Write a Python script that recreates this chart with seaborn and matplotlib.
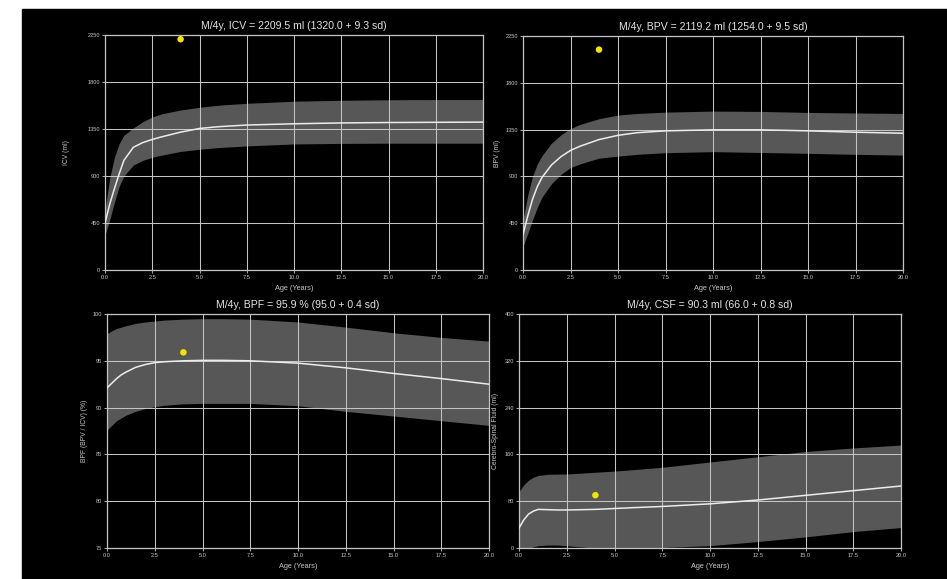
import numpy as np
import pandas as pd
import matplotlib
matplotlib.use("Agg")
import matplotlib.pyplot as plt
import seaborn as sns

sns.set_theme(style="dark")
plt.rcParams['font.family'] = ['Liberation Sans', 'DejaVu Sans']

ages = [0, 0.25, 0.5, 0.75, 1, 1.5, 2, 2.5, 3, 4, 5, 6, 7.5, 10, 12.5, 15, 17.5, 20]

icv_mean = [450, 630, 780, 920, 1050, 1175, 1220, 1250, 1275, 1320, 1355, 1372, 1388, 1400, 1408, 1412, 1414, 1416]
icv_upper = [575, 880, 1080, 1210, 1290, 1360, 1420, 1465, 1495, 1532, 1558, 1578, 1596, 1616, 1625, 1630, 1632, 1632]
icv_lower = [335, 480, 650, 800, 900, 1005, 1050, 1079, 1100, 1135, 1156, 1172, 1188, 1207, 1212, 1214, 1214, 1214]

bpv_mean = [340, 520, 680, 800, 890, 1010, 1090, 1150, 1190, 1254, 1295, 1320, 1338, 1348, 1348, 1338, 1325, 1315]
bpv_upper = [480, 720, 900, 1020, 1100, 1220, 1300, 1360, 1400, 1455, 1490, 1505, 1518, 1528, 1525, 1515, 1510, 1505]
bpv_lower = [230, 350, 480, 600, 700, 830, 920, 985, 1020, 1075, 1095, 1112, 1128, 1138, 1130, 1122, 1112, 1105]

bpf_mean = [92.1, 92.6, 93.1, 93.5, 93.8, 94.3, 94.6, 94.8, 94.9, 95.0, 95.05, 95.05, 95.0, 94.75, 94.25, 93.65, 93.1, 92.5]
bpf_upper = [97.9, 98.2, 98.45, 98.6, 98.75, 99.0, 99.15, 99.25, 99.35, 99.45, 99.5, 99.5, 99.45, 99.15, 98.6, 98.0, 97.5, 97.1]
bpf_lower = [87.6, 88.1, 88.6, 88.9, 89.2, 89.6, 89.9, 90.1, 90.25, 90.4, 90.45, 90.45, 90.45, 90.2, 89.6, 89.1, 88.6, 88.1]

csf_mean = [34, 48, 58, 63, 66, 65.5, 65, 65, 65.3, 66, 67.5, 69, 71, 75.5, 82, 90, 98, 106]
csf_upper = [96, 108, 116, 121, 124, 126, 126.3, 126.5, 127.5, 129.5, 131.5, 134, 138, 147, 156, 165, 171, 176]
csf_lower = [-28, -12, -2, 2, 4, 5, 5, 4, 2.5, 0, -1.5, -1.5, 1, 4, 11, 19, 28, 35]

# subject measurement (age 4)
subj_age = 4
icv_subj = 2209.5
bpv_subj = 2119.2
bpf_subj = 95.9
csf_subj = 90.3

titles = [
    "M/4y, ICV = 2209.5 ml (1320.0 + 9.3 sd)",
    "M/4y, BPV = 2119.2 ml (1254.0 + 9.5 sd)",
    "M/4y, BPF = 95.9 % (95.0 + 0.4 sd)",
    "M/4y, CSF = 90.3 ml (66.0 + 0.8 sd)",
]
ylabels = ["ICV (ml)", "BPV (ml)", "BPF (BPV / ICV) (%)", "Cerebro-Spinal Fluid (ml)"]
yticks = [
    [0, 450, 900, 1350, 1800, 2250],
    [0, 450, 900, 1350, 1800, 2250],
    [75, 80, 85, 90, 95, 100],
    [0, 80, 160, 240, 320, 400],
]
xticks = [0, 2.5, 5, 7.5, 10, 12.5, 15, 17.5, 20]

W, H = 947, 579
fig = plt.figure(figsize=(W / 100, H / 100), dpi=100, facecolor="white")
# black canvas with a thin white margin at left and top
fig.patches.append(plt.Rectangle((22 / W, 0), 1 - 22 / W, 1 - 9 / H,
                                 transform=fig.transFigure, color="black", zorder=-10))

def box(l, t, r, b):
    return [l / W, 1 - b / H, (r - l) / W, (b - t) / H]

rects = [box(105, 35, 483, 270), box(523, 36, 903, 270),
         box(107, 314, 489, 548), box(519, 314, 901, 548)]
ylab_x = [-0.093, -0.058, -0.05, -0.052]

series = [
    (icv_mean, icv_lower, icv_upper, icv_subj),
    (bpv_mean, bpv_lower, bpv_upper, bpv_subj),
    (bpf_mean, bpf_lower, bpf_upper, bpf_subj),
    (csf_mean, csf_lower, csf_upper, csf_subj),
]

grid_c = "#c4c4c4"
text_c = "#c8c8c8"

for i, (mean, lo, hi, subj) in enumerate(series):
    ax = fig.add_axes(rects[i])
    ax.set_facecolor("black")
    df = pd.DataFrame({"age": ages, "mean": mean, "lo": lo, "hi": hi})

    ax.fill_between(df["age"], df["lo"], df["hi"], color="#575757", lw=0, zorder=1)
    ax.set_xticks(xticks)
    ax.set_yticks(yticks[i])
    ax.grid(True, color=grid_c, lw=0.75, zorder=2)
    ax.set_axisbelow(False)
    sns.lineplot(data=df, x="age", y="mean", ax=ax, color="#ececec", lw=1.1, zorder=3)
    sns.scatterplot(x=[subj_age], y=[subj], ax=ax, color="#f2e600", s=22,
                    edgecolor="none", zorder=4)

    ax.set_xlim(0, 20)
    ax.set_ylim(yticks[i][0], yticks[i][-1])
    ax.set_xticklabels([f"{t:.1f}" for t in xticks])
    ax.set_yticklabels([str(t) for t in yticks[i]])
    ax.tick_params(axis="both", labelsize=4.1, colors=text_c, length=2, width=0.6,
                   pad=1.5, direction="out", bottom=True, left=True)
    for s in ax.spines.values():
        s.set_color(grid_c)
        s.set_linewidth(0.9)

    ax.set_title(titles[i], fontsize=7.6, color="#e4e4e4", pad=4)
    ax.set_xlabel("Age (Years)", fontsize=5.3, color=text_c)
    ax.xaxis.set_label_coords(0.5, -0.065)
    ax.set_ylabel(ylabels[i], fontsize=4.9, color=text_c)
    ax.yaxis.set_label_coords(ylab_x[i], 0.5)

fig.savefig("out.png", dpi=100, facecolor=fig.get_facecolor())
